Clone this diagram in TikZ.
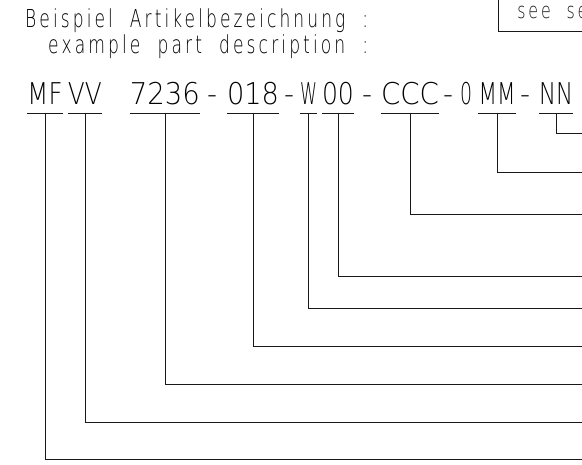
\documentclass[tikz,border=0pt]{standalone}
\usepackage{fontspec}
\usepackage{graphicx}
\usetikzlibrary{positioning}
\newfontfamily\cadfont{DejaVu Sans ExtraLight}
\newfontfamily\cadwide{DejaVu Sans ExtraLight}[LetterSpace=18, WordSpace=2]
\newcommand{\fitw}[2]{\resizebox{#1}{\height}{#2}}

\begin{document}
\begin{tikzpicture}[
		x=1pt, y=-1pt,
		line/.style={line width=0.8pt, black!90},
		code/.style={anchor=base, inner sep=0pt, text depth=8.7pt, font=\cadfont\fontsize{30}{30}\selectfont},
		seg/.style={code, append after command={(\tikzlastnode.south west) edge[line] (\tikzlastnode.south east)}},
		head/.style={anchor=base west, inner sep=0pt, font=\cadwide\fontsize{24.7}{24.7}\selectfont}
		]
		\useasboundingbox (0,0) rectangle (582,464);

		\node[head] (titlede) at (25,27) {\fitw{343pt}{Beispiel Artikelbezeichnung :}};
		\node[head] (titleen) at (48,53) {\fitw{320pt}{example part description :}};
		\node[draw, line, anchor=south west, inner xsep=19pt, inner ysep=13pt, text height=30pt, text depth=0pt, font=\cadwide\fontsize{22}{22}\selectfont] (see) at (498,32) {\fitw{70pt}{see se}};

		\node[seg] (mf) at (45,104) {\fitw{35pt}{MF}};
		\node[seg] (vv) at (85,104) {\fitw{34pt}{VV}};
		\node[seg] (typ) at (165,104) {\fitw{70pt}{7236}};
		\node[code] (d1) at (212,104) {\fitw{10pt}{-}};
		\node[seg] (dia) at (253,104) {\fitw{52pt}{018}};
		\node[code] (d2) at (289,104) {\fitw{10pt}{-}};
		\node[seg] (w) at (308.5,104) {\fitw{17pt}{W}};
		\node[seg] (oo) at (338,104) {\fitw{32pt}{00}};
		\node[code] (d3) at (367,104) {\fitw{10pt}{-}};
		\node[seg] (ccc) at (410,104) {\fitw{58pt}{CCC}};
		\node[code] (d4) at (448,104) {\fitw{10pt}{-}};
		\node[code] (zero) at (466,104) {\fitw{12pt}{0}};
		\node[seg] (mm) at (497,104) {\fitw{37pt}{MM}};
		\node[code] (d5) at (525,104) {\fitw{10pt}{-}};
		\node[seg] (nn) at (556,104) {\fitw{34pt}{NN}};

		\foreach \seg/\yy in {nn/133, mm/172, ccc/214, oo/276, w/308, dia/346, typ/384, vv/422, mf/459} {
			\coordinate (\seg-end) at (582,\yy);
			\draw[line] (\seg.south) |- (\seg-end);
		}
	\end{tikzpicture}
\end{document}
